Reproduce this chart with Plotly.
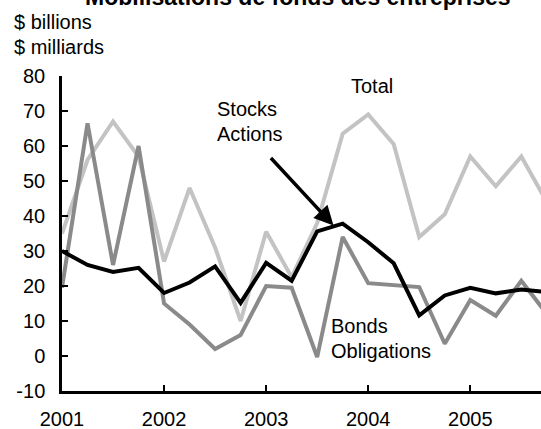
import plotly.graph_objects as go

# Quarterly data, 2001Q1 .. 2005Q4 ($ billions)
quarters = [2001.0, 2001.25, 2001.5, 2001.75,
            2002.0, 2002.25, 2002.5, 2002.75,
            2003.0, 2003.25, 2003.5, 2003.75,
            2004.0, 2004.25, 2004.5, 2004.75,
            2005.0, 2005.25, 2005.5, 2005.75]
total = [35, 56, 67, 57, 27, 48, 31, 10, 35.5, 22.5, 38, 63.5,
         69, 60.5, 34, 40.5, 57, 48.5, 57, 44]
bonds = [19.5, 66.5, 26, 60, 15, 9, 2, 6, 20, 19.5, -0.3, 34,
         20.8, 20.2, 19.7, 3.5, 16, 11.5, 21.5, 12]
stocks = [30, 26, 24, 25.2, 18, 21, 25.6, 15.2, 26.6, 21.5, 35.6, 37.8,
          32.5, 26.5, 11.6, 17.3, 19.5, 17.9, 19, 18.3]

year_ticks = [2001, 2002, 2003, 2004, 2005]
year_labels = ["2001", "2002", "2003", "2004", "2005"]
y_ticks = [-10, 0, 10, 20, 30, 40, 50, 60, 70, 80]
y_labels = ["-10", "0", "10", "20", "30", "40", "50", "60", "70", "80"]

W, H = 541, 429
ML, MR, MT, MB = 62, 0, 76, 38
PW, PH = W - ML - MR, H - MT - MB
FONT = "Liberation Sans, Arial, Helvetica, sans-serif"


def px(x):
    return (x - ML) / PW


def py(y):
    return (H - MB - y) / PH


fig = go.Figure()
fig.add_trace(go.Scatter(x=quarters, y=total, mode="lines",
                         line=dict(color="#c3c3c3", width=4), name="Total"))
fig.add_trace(go.Scatter(x=quarters, y=bonds, mode="lines",
                         line=dict(color="#8a8a8a", width=4), name="Bonds"))
fig.add_trace(go.Scatter(x=quarters, y=stocks, mode="lines",
                         line=dict(color="#000000", width=4), name="Stocks"))

annos = []


def text(s, left, baseline, size=20, bold=False, anchor="left"):
    annos.append(dict(
        text=("<b>%s</b>" % s) if bold else s,
        xref="paper", yref="paper",
        x=px(left), y=py(baseline - 0.35 * size),
        xanchor=anchor, yanchor="middle", showarrow=False,
        font=dict(family=FONT, size=size, color="black"),
        borderpad=0,
    ))


text("Mobilisations de fonds des entreprises", 298, 5.5, size=23, bold=True, anchor="center")
text("$ billions", 12.5, 29.3)
text("$ milliards", 12.5, 54.3)
text("Total", 350, 93.3)
text("Stocks", 215.5, 115.5)
text("Actions", 215.5, 141)
text("Bonds", 330, 333.3)
text("Obligations", 330, 358.3)

# arrow pointing at the stocks line
annos.append(dict(
    xref="paper", yref="paper", x=px(333.5), y=py(225.5),
    ax=-64, ay=-69, axref="pixel", ayref="pixel",
    text="", showarrow=True, arrowhead=2, arrowsize=1.1, arrowwidth=3.5,
    arrowcolor="black", standoff=0,
))

fig.update_layout(
    width=W, height=H,
    margin=dict(l=ML, r=MR, t=MT, b=MB, pad=0, autoexpand=False),
    paper_bgcolor="white", plot_bgcolor="white",
    showlegend=False,
    font=dict(family=FONT, size=20, color="black"),
    annotations=annos,
    xaxis=dict(range=[2001, 2001 + PW / 102.07], tickvals=year_ticks,
               ticktext=year_labels, showgrid=False, zeroline=False,
               showline=True, linecolor="black", linewidth=2.5,
               ticks="inside", ticklen=6, tickwidth=2, tickcolor="black",
               ticklabelstandoff=8, automargin=False,
               tickfont=dict(family=FONT, size=20, color="black")),
    yaxis=dict(range=[-10, 80], tickvals=y_ticks, ticktext=y_labels,
               showgrid=False,
               zeroline=False, showline=True, linecolor="black",
               linewidth=2.5, ticks="inside", ticklen=6, tickwidth=2,
               tickcolor="black", ticklabelstandoff=10, automargin=False,
               tickfont=dict(family=FONT, size=20, color="black")),
)

fig.write_html("out.html",
               config={"displayModeBar": False},
               post_script="document.body.style.margin='0';"
                           "document.body.style.padding='0';")
